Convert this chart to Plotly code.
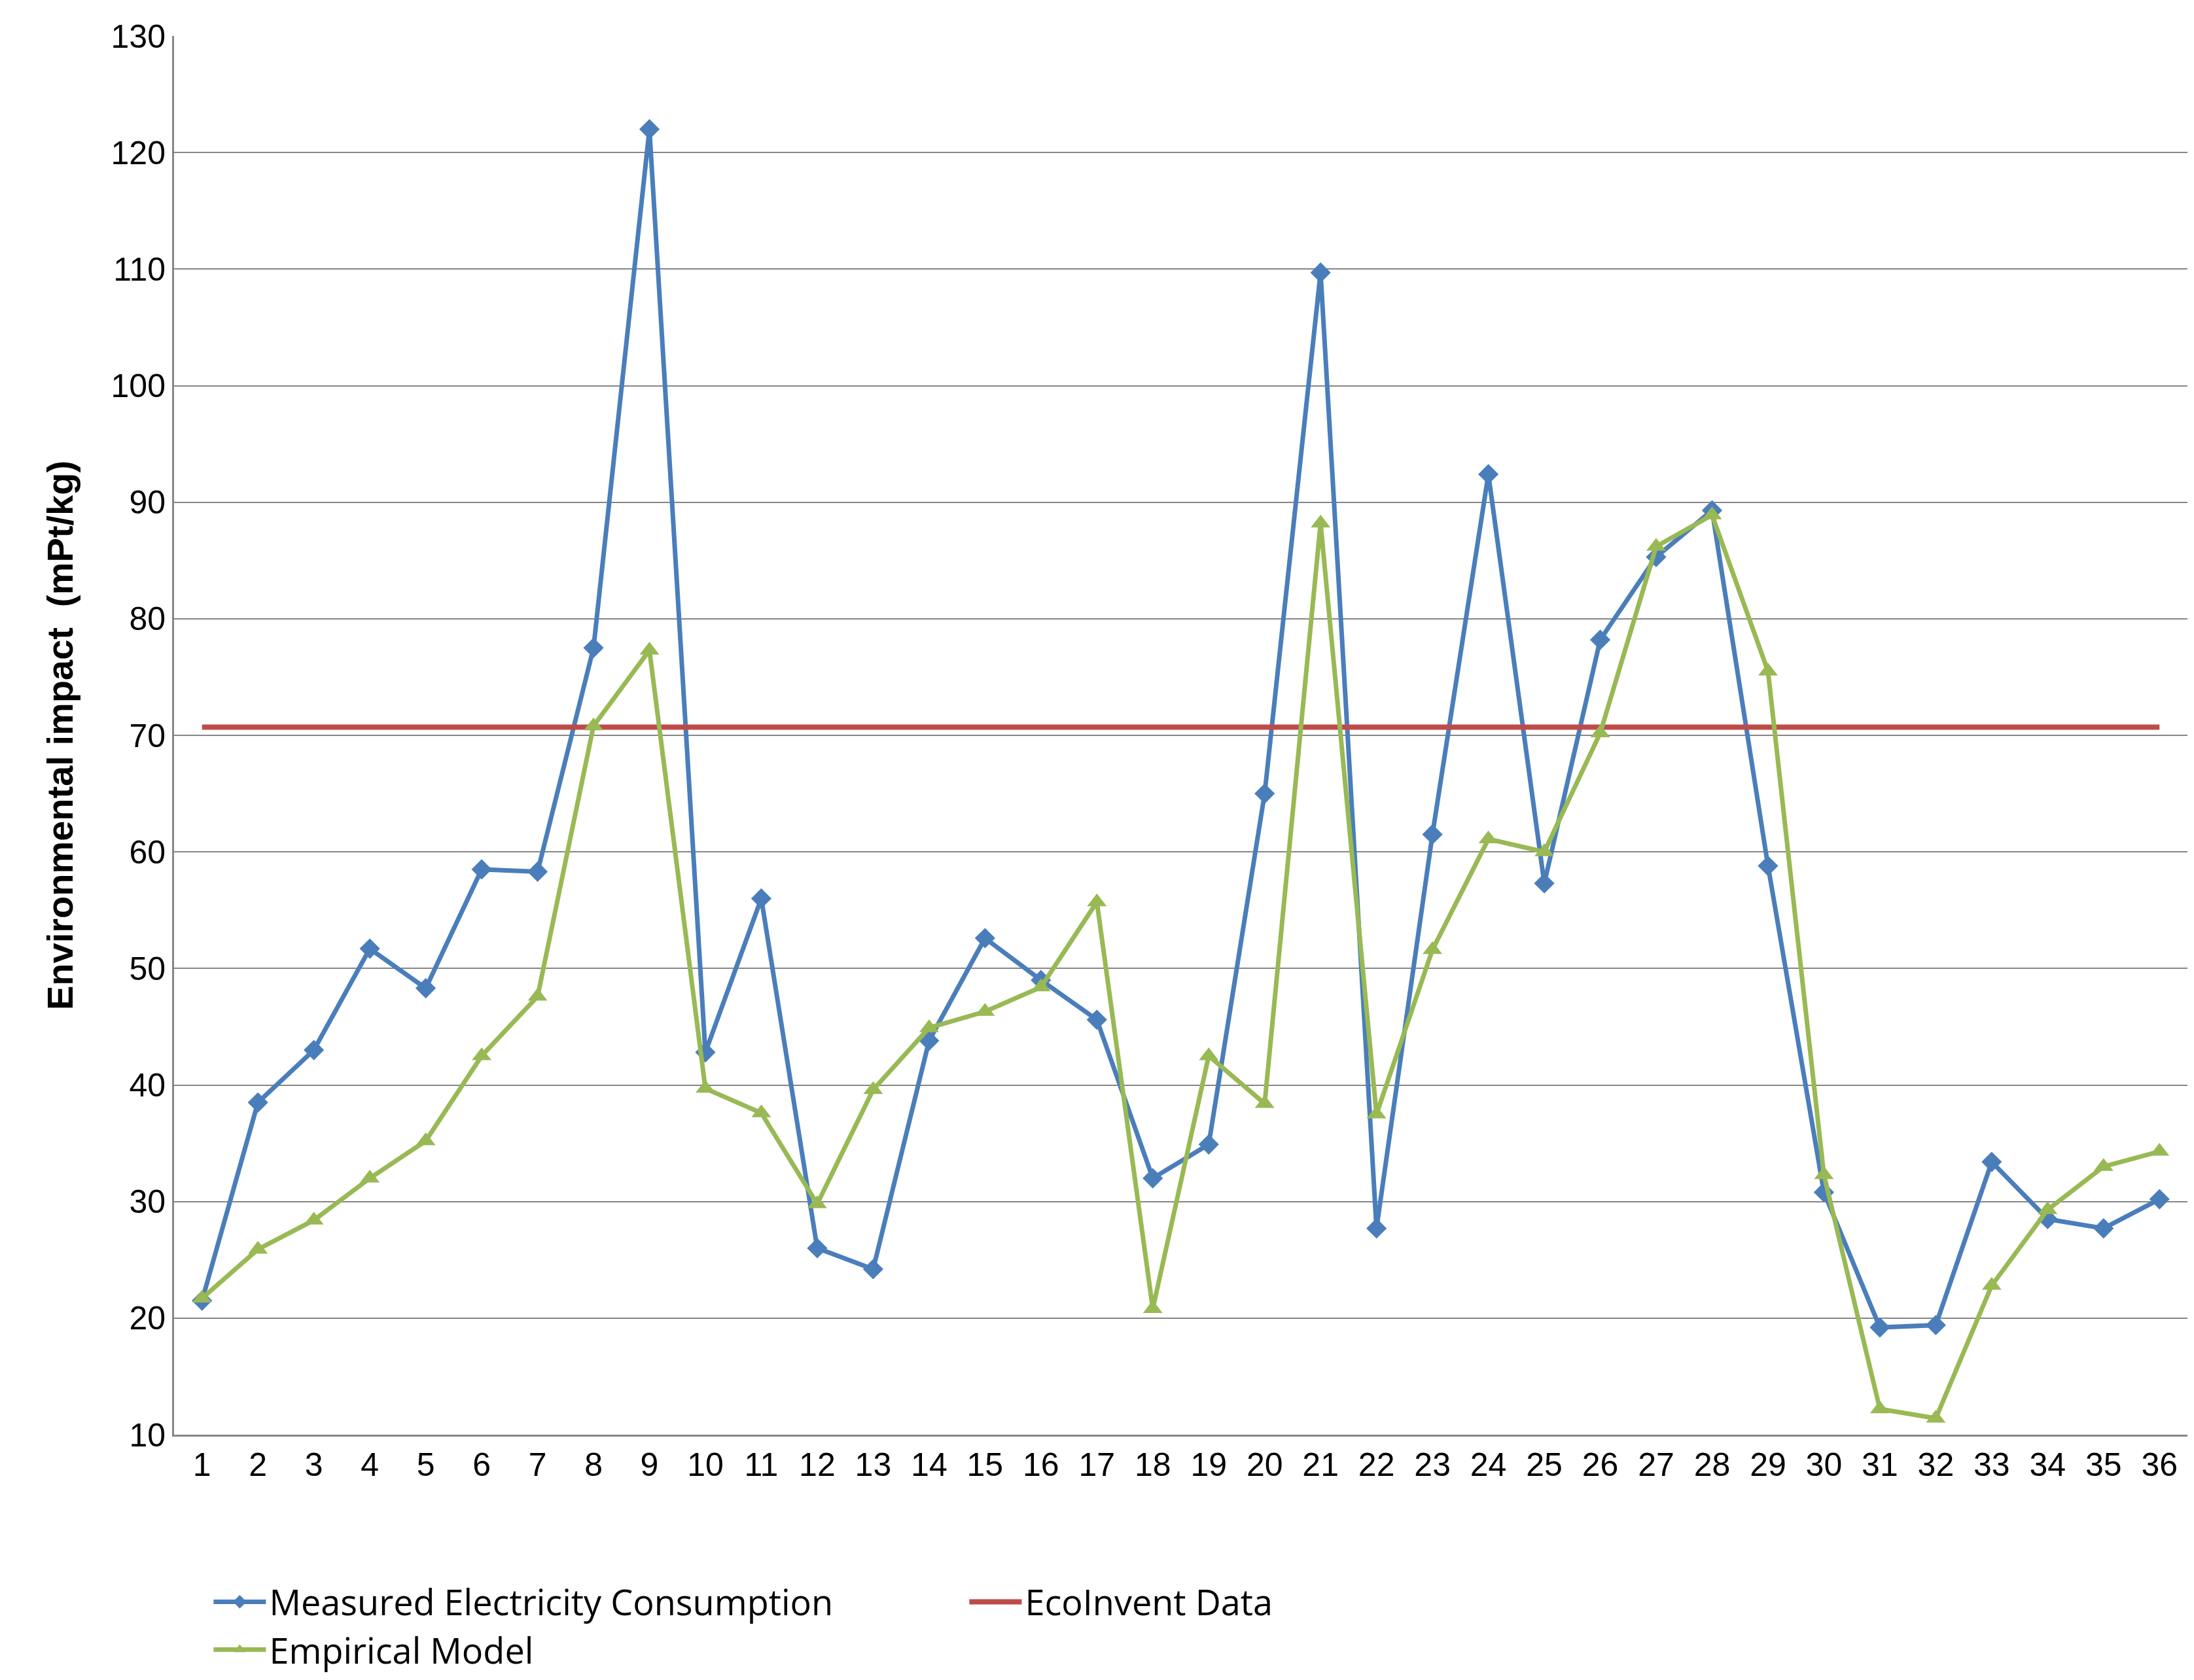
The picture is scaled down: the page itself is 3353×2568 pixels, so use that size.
import plotly.graph_objects as go

x = list(range(1, 37))
measured = [21.5, 38.5, 43, 51.7, 48.3, 58.5, 58.3, 77.5, 122, 42.8, 56, 26, 24.2, 43.8, 52.6, 49, 45.6, 32,
            34.9, 65, 109.7, 27.7, 61.5, 92.4, 57.3, 78.2, 85.3, 89.3, 58.8, 30.8, 19.2, 19.4, 33.4, 28.5, 27.7, 30.2]
ecoinvent = [70.7] * 36
empirical = [21.7, 25.9, 28.4, 32, 35.2, 42.5, 47.6, 70.8, 77.3, 39.7, 37.6, 29.8, 39.6, 44.9, 46.3, 48.4, 55.7, 20.8,
             42.5, 38.4, 88.2, 37.5, 51.6, 61.1, 60, 70.2, 86.2, 88.9, 75.5, 32.3, 12.2, 11.4, 22.8, 29.3, 33, 34.3]

fig = go.Figure()
fig.add_trace(go.Scatter(x=x, y=measured, name="Measured Electricity Consumption", mode="lines+markers",
                         line=dict(color="#4A7EBB", width=7), marker=dict(symbol="diamond", size=24, color="#4A7EBB")))
fig.add_trace(go.Scatter(x=x, y=ecoinvent, name="EcoInvent Data", mode="lines",
                         line=dict(color="#BE4B48", width=8)))
fig.add_trace(go.Scatter(x=x, y=empirical, name="Empirical Model", mode="lines+markers",
                         line=dict(color="#98B954", width=7), marker=dict(symbol="triangle-up", size=26, color="#98B954")))

fig.update_layout(
    width=3353, height=2568, plot_bgcolor="white", paper_bgcolor="white",
    margin=dict(l=258, r=18, t=47, b=247),
    font=dict(family="Liberation Sans, Arial", size=50, color="black"),
    showlegend=True,
    legend=dict(orientation="h", x=0.018, xanchor="left", y=-0.1, yanchor="top",
                font=dict(size=54, family="Open Sans"), entrywidth=1060, itemwidth=80),
    xaxis=dict(range=[0.5, 36.5], tickmode="array", tickvals=x, showgrid=False,
               showline=True, linecolor="#868686", linewidth=3, ticks="", ticklen=0),
    yaxis=dict(range=[10, 130], dtick=10, showgrid=True, gridcolor="#868686", gridwidth=2,
               showline=True, linecolor="#868686", linewidth=3, zeroline=False,
               title=dict(text="<b>Environmental impact  (mPt/kg)</b>", font=dict(size=56), standoff=40)),
)
fig.write_html("out.html")
